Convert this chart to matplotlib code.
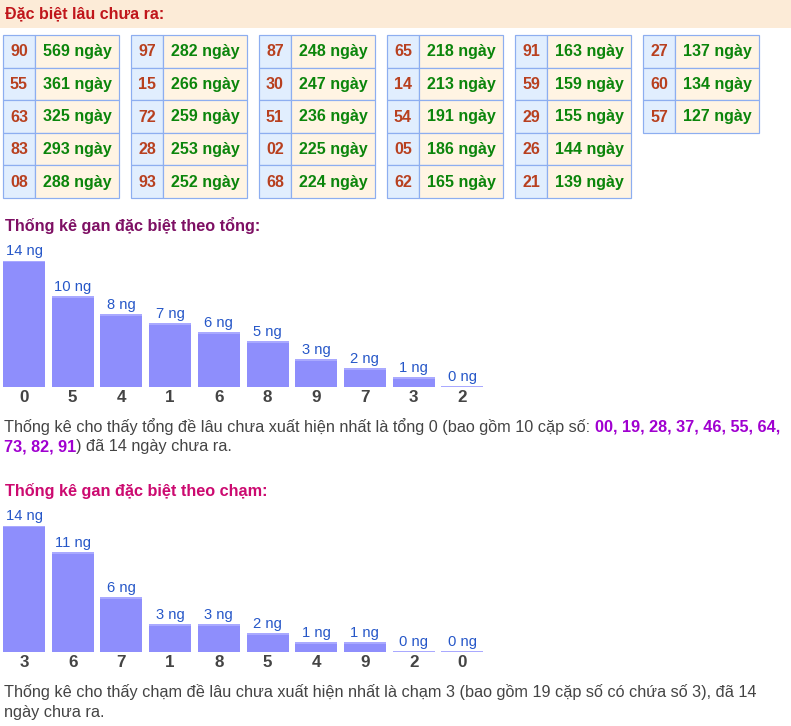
import matplotlib
matplotlib.use('Agg')
import matplotlib.pyplot as plt
from matplotlib.patches import Rectangle
import numpy as np

plt.rcParams['font.family'] = ['Liberation Sans', 'DejaVu Sans']

W, H, DPI = 791, 726, 100

# ---------------- data ----------------
table_nums = ["90", "55", "63", "83", "08",
              "97", "15", "72", "28", "93",
              "87", "30", "51", "02", "68",
              "65", "14", "54", "05", "62",
              "91", "59", "29", "26", "21",
              "27", "60", "57"]
table_days = [569, 361, 325, 293, 288,
              282, 266, 259, 253, 252,
              248, 247, 236, 225, 224,
              218, 213, 191, 186, 165,
              163, 159, 155, 144, 139,
              137, 134, 127]

tong_labels = ["0", "5", "4", "1", "6", "8", "9", "7", "3", "2"]
tong_values = [14, 10, 8, 7, 6, 5, 3, 2, 1, 0]

cham_labels = ["3", "6", "7", "1", "8", "5", "4", "9", "2", "0"]
cham_values = [14, 11, 6, 3, 3, 2, 1, 1, 0, 0]

header_title = "Đặc biệt lâu chưa ra:"
tong_title = "Thống kê gan đặc biệt theo tổng:"
cham_title = "Thống kê gan đặc biệt theo chạm:"
tong_text1 = "Thống kê cho thấy tổng đề lâu chưa xuất hiện nhất là tổng 0 (bao gồm 10 cặp số: "
tong_pairs1 = "00, 19, 28, 37, 46, 55, 64,"
tong_pairs2 = "73, 82, 91"
tong_text2 = ") đã 14 ngày chưa ra."
cham_text1 = "Thống kê cho thấy chạm đề lâu chưa xuất hiện nhất là chạm 3 (bao gồm 19 cặp số có chứa số 3), đã 14"
cham_text2 = "ngày chưa ra."

# ---------------- figure ----------------
def pt(px):
    return px * 72.0 / DPI

fig = plt.figure(figsize=(W / DPI, H / DPI), dpi=DPI)
bg = fig.add_axes([0, 0, 1, 1])
bg.set_xlim(0, W)
bg.set_ylim(H, 0)
bg.axis('off')
renderer = fig.canvas.get_renderer()

# header band
bg.add_patch(Rectangle((0, 0), W, 28, facecolor='#FCEBD7', edgecolor='none'))
bg.text(5, 14, header_title, fontsize=pt(16), fontweight='bold',
        color='#C0161B', va='center', ha='left')

# tables
BORDER = '#8DAEF0'
gx0, gstep = 3, 128
ry0, rh = 35, 32.6
nw, vw = 32, 84
for i, (n, d) in enumerate(zip(table_nums, table_days)):
    g, r = divmod(i, 5)
    x0 = gx0 + gstep * g
    y0 = ry0 + rh * r
    bg.add_patch(Rectangle((x0, y0), nw, rh, facecolor='#E1EEFE',
                           edgecolor=BORDER, lw=pt(1.2)))
    bg.add_patch(Rectangle((x0 + nw, y0), vw, rh, facecolor='#FFF4E3',
                           edgecolor=BORDER, lw=pt(1.2)))
    bg.text(x0 + nw / 2, y0 + rh / 2 + 0.5, n, fontsize=pt(16), fontweight='bold',
            color='#B8401F', ha='center', va='center')
    bg.text(x0 + nw + vw / 2, y0 + rh / 2 + 0.5, f"{d} ngày", fontsize=pt(16),
            fontweight='bold', color='#0B850B', ha='center', va='center')

# section titles
bg.text(5, 226, tong_title, fontsize=pt(16.3), fontweight='bold',
        color='#7E1064', ha='left', va='center')
bg.text(5, 491, cham_title, fontsize=pt(16.3), fontweight='bold',
        color='#CC0A70', ha='left', va='center')


def text_width(s, **kw):
    t = bg.text(0, 0, s + "x", **kw)
    w1 = t.get_window_extent(renderer=renderer).width
    t.remove()
    t = bg.text(0, 0, "x", **kw)
    w2 = t.get_window_extent(renderer=renderer).width
    t.remove()
    return w1 - w2


def rich_line(x, y, segments):
    for s, kw in segments:
        bg.text(x, y, s, va='center', ha='left', **kw)
        x += text_width(s, **kw)


PFS = pt(16.3)
normal = dict(fontsize=PFS, color='#444444')
purple = dict(fontsize=PFS, color='#A000D0', fontweight='bold')

rich_line(4, 427, [(tong_text1, normal), (tong_pairs1, purple)])
rich_line(4, 447, [(tong_pairs2, purple), (tong_text2, normal)])
rich_line(4, 692, [(cham_text1, normal)])
rich_line(4, 712, [(cham_text2, normal)])


# bar charts
BAR_STEP = 48.7
BAR_W = 42
UNIT = 9.0


def bar_chart(baseline_y, labels, values):
    nbar = len(values)
    left = 3
    width_px = BAR_STEP * nbar
    height_px = UNIT * 14
    ax = fig.add_axes([left / W, 1 - baseline_y / H, width_px / W, height_px / H])
    ax.set_xlim(0, nbar)
    ax.set_ylim(0, 14)
    ax.axis('off')
    x = np.arange(nbar)
    bw = BAR_W / BAR_STEP
    ax.bar(x, values, width=bw, align='edge', color='#8E8EFC', edgecolor='none')
    ax.hlines(values, x, x + bw, color='#A9A9FF', lw=pt(2))
    for xi, lab, v in zip(x, labels, values):
        ax.annotate(f"{v} ng", xy=(xi + bw / 2, v), xytext=(0, pt(10)),
                    textcoords='offset points', ha='center', va='center',
                    fontsize=pt(14.8), color='#2657C8', annotation_clip=False)
        ax.annotate(lab, xy=(xi + bw / 2, 0), xytext=(0, -pt(10.6)),
                    textcoords='offset points', ha='center', va='center',
                    fontsize=pt(17), fontweight='bold', color='#444444',
                    annotation_clip=False)
    return ax


bar_chart(386.7, tong_labels, tong_values)
bar_chart(651.7, cham_labels, cham_values)

fig.savefig('out.png', dpi=DPI)
